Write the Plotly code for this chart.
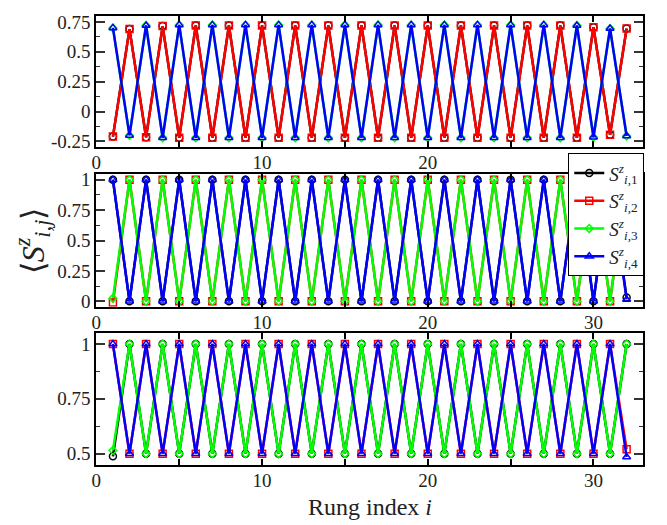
import plotly.graph_objects as go

rung = list(range(1, 33))

# Top panel
top_s1 = [-0.21, 0.69, -0.215, 0.715, -0.22, 0.72, -0.22, 0.72, -0.22, 0.72, -0.22, 0.72, -0.22, 0.72, -0.22, 0.72,
          -0.22, 0.72, -0.22, 0.72, -0.22, 0.72, -0.22, 0.72, -0.22, 0.72, -0.22, 0.72, -0.22, 0.705, -0.195, 0.695]
top_s2 = [-0.21, 0.69, -0.215, 0.715, -0.22, 0.72, -0.22, 0.72, -0.22, 0.72, -0.22, 0.72, -0.22, 0.72, -0.22, 0.72,
          -0.22, 0.72, -0.22, 0.72, -0.22, 0.72, -0.22, 0.72, -0.22, 0.72, -0.22, 0.72, -0.22, 0.705, -0.195, 0.695]
top_s3 = [0.70, -0.20, 0.72, -0.22, 0.725, -0.22, 0.725, -0.22, 0.725, -0.22, 0.725, -0.22, 0.725, -0.22, 0.725, -0.22,
          0.725, -0.22, 0.725, -0.22, 0.725, -0.22, 0.725, -0.22, 0.725, -0.22, 0.725, -0.22, 0.72, -0.215, 0.695, -0.205]
top_s4 = [0.70, -0.20, 0.72, -0.22, 0.725, -0.22, 0.725, -0.22, 0.725, -0.22, 0.725, -0.22, 0.725, -0.22, 0.725, -0.22,
          0.725, -0.22, 0.725, -0.22, 0.725, -0.22, 0.725, -0.22, 0.725, -0.22, 0.725, -0.22, 0.72, -0.215, 0.695, -0.205]

# Middle panel
mid_s1 = [1, 0, 1, 0, 1, 0, 1, 0, 1, 0, 1, 0, 1, 0, 1, 0,
          1, 0, 1, 0, 1, 0, 1, 0, 1, 0, 1, 0, 1, 0, 1, 0.03]
mid_s2 = [-0.01, 1, 0, 1, 0, 1, 0, 1, 0, 1, 0, 1, 0, 1, 0, 1,
          0, 1, 0, 1, 0, 1, 0, 1, 0, 1, 0, 1, 0, 1, 0, 1]
mid_s3 = [0.025, 1, 0, 1, 0, 1, 0, 1, 0, 1, 0, 1, 0, 1, 0, 1,
          0, 1, 0, 1, 0, 1, 0, 1, 0, 1, 0, 1, 0, 1, 0, 1]
mid_s4 = [1, 0, 1, 0, 1, 0, 1, 0, 1, 0, 1, 0, 1, 0, 1, 0,
          1, 0, 1, 0, 1, 0, 1, 0, 1, 0, 1, 0, 1, 0, 1, 0.015]

# Bottom panel
bot_s1 = [0.488, 1, 0.5, 1, 0.5, 1, 0.5, 1, 0.5, 1, 0.5, 1, 0.5, 1, 0.5, 1,
          0.5, 1, 0.5, 1, 0.5, 1, 0.5, 1, 0.5, 1, 0.5, 1, 0.5, 1, 0.5, 1]
bot_s2 = [1, 0.5, 1, 0.5, 1, 0.5, 1, 0.5, 1, 0.5, 1, 0.5, 1, 0.5, 1, 0.5,
          1, 0.5, 1, 0.5, 1, 0.5, 1, 0.5, 1, 0.5, 1, 0.5, 1, 0.5, 1, 0.52]
bot_s3 = [0.515, 1, 0.5, 1, 0.5, 1, 0.5, 1, 0.5, 1, 0.5, 1, 0.5, 1, 0.5, 1,
          0.5, 1, 0.5, 1, 0.5, 1, 0.5, 1, 0.5, 1, 0.5, 1, 0.5, 1, 0.5, 1]
bot_s4 = [1, 0.5, 1, 0.5, 1, 0.5, 1, 0.5, 1, 0.5, 1, 0.5, 1, 0.5, 1, 0.5,
          1, 0.5, 1, 0.5, 1, 0.5, 1, 0.5, 1, 0.5, 1, 0.5, 1, 0.5, 1, 0.485]

series_names = ["<i>S</i><sup><i>z</i></sup><sub><i>i</i>,1</sub>",
                "<i>S</i><sup><i>z</i></sup><sub><i>i</i>,2</sub>",
                "<i>S</i><sup><i>z</i></sup><sub><i>i</i>,3</sub>",
                "<i>S</i><sup><i>z</i></sup><sub><i>i</i>,4</sub>"]
colors = ["#000000", "#ff0000", "#00ff00", "#0000ff"]
symbols = ["circle-open", "square-open", "diamond-open", "triangle-up-open"]
marker_sizes = [7, 7, 6, 7]

x_ticks = [0, 5, 10, 15, 20, 25, 30]
x_ticktext = ["0", "", "10", "", "20", "", "30"]

panels = [
    ([top_s1, top_s2, top_s3, top_s4], "x", "y"),
    ([mid_s1, mid_s2, mid_s3, mid_s4], "x2", "y2"),
    ([bot_s1, bot_s2, bot_s3, bot_s4], "x3", "y3"),
]

W, H = 659, 517  # page has an 8px body margin

fig = go.Figure()
for p, (data, xa, ya) in enumerate(panels):
    for k in range(4):
        fig.add_trace(go.Scatter(
            x=rung, y=data[k], xaxis=xa, yaxis=ya,
            mode="lines+markers",
            line=dict(color=colors[k], width=2.5),
            marker=dict(symbol=symbols[k], size=marker_sizes[k], color=colors[k],
                        line=dict(width=1.5, color=colors[k])),
            name=series_names[k], legendgroup=str(k), showlegend=(p == 1),
        ))

FONT = "Liberation Serif"

def xax(anchor):
    return dict(domain=[84/W, 635/W], range=[0, 33], anchor=anchor,
                tickvals=x_ticks, ticktext=x_ticktext, ticks="inside", ticklen=6, tickwidth=1.5,
                tickcolor="black", showline=True, linecolor="black", linewidth=2, mirror="ticks",
                showgrid=False, zeroline=False, ticklabelstandoff=-3,
                tickfont=dict(family=FONT, size=19, color="#222"))

def yax(top, bottom, rng, tickvals, ticktext, anchor):
    return dict(domain=[1 - bottom/H, 1 - top/H], range=rng, anchor=anchor,
                tickvals=tickvals, ticktext=ticktext, ticks="inside", ticklen=9, tickwidth=1.5,
                tickcolor="#333", showline=True, linecolor="black", linewidth=2, mirror="ticks",
                showgrid=False, zeroline=False, tickfont=dict(family=FONT, size=19, color="#222"),
                minor=dict(dtick=0.125, tick0=0, ticks="inside", ticklen=4, tickwidth=1.2,
                           tickcolor="#333", showgrid=False))

fig.update_layout(
    width=W, height=H,
    margin=dict(l=0, r=0, t=0, b=0),
    paper_bgcolor="white", plot_bgcolor="white",
    xaxis=xax("y"),
    xaxis2=xax("y2"),
    xaxis3=xax("y3"),
    yaxis=yax(3, 137, [-0.3, 0.8], [-0.25, 0, 0.25, 0.5, 0.75],
              ["-0.25", "0", "0.25", "0.5", "0.75"], "x"),
    yaxis2=yax(164.5, 299.5, [-0.045, 1.045], [0, 0.25, 0.5, 0.75, 1],
               ["0", "0.25", "0.5", "0.75", "1"], "x2"),
    yaxis3=yax(326.3, 461, [0.448, 1.05], [0.5, 0.75, 1],
               ["0.5", "0.75", "1"], "x3"),
    legend=dict(x=559.5/W, y=1 - 143/H, xanchor="left", yanchor="top",
                bgcolor="white", bordercolor="black", borderwidth=1,
                font=dict(family=FONT, size=19, color="#222"), itemwidth=30,
                tracegroupgap=0),
    showlegend=True,
    annotations=[
        dict(text="Rung index <i>i</i>", x=359.5/W, y=1 - 503.5/H, xref="paper", yref="paper",
             xanchor="center", yanchor="middle",
             showarrow=False, font=dict(family=FONT, size=24, color="#222")),
        dict(text="⟨<i>S</i><sup><i>z</i></sup><sub><i>i,j</i></sub>⟩", x=20/W, y=1 - 232/H,
             xref="paper", yref="paper", xanchor="center", yanchor="middle",
             showarrow=False, textangle=-90,
             font=dict(family=FONT, size=32, color="#222")),
    ],
)

fig.write_html("out.html")
